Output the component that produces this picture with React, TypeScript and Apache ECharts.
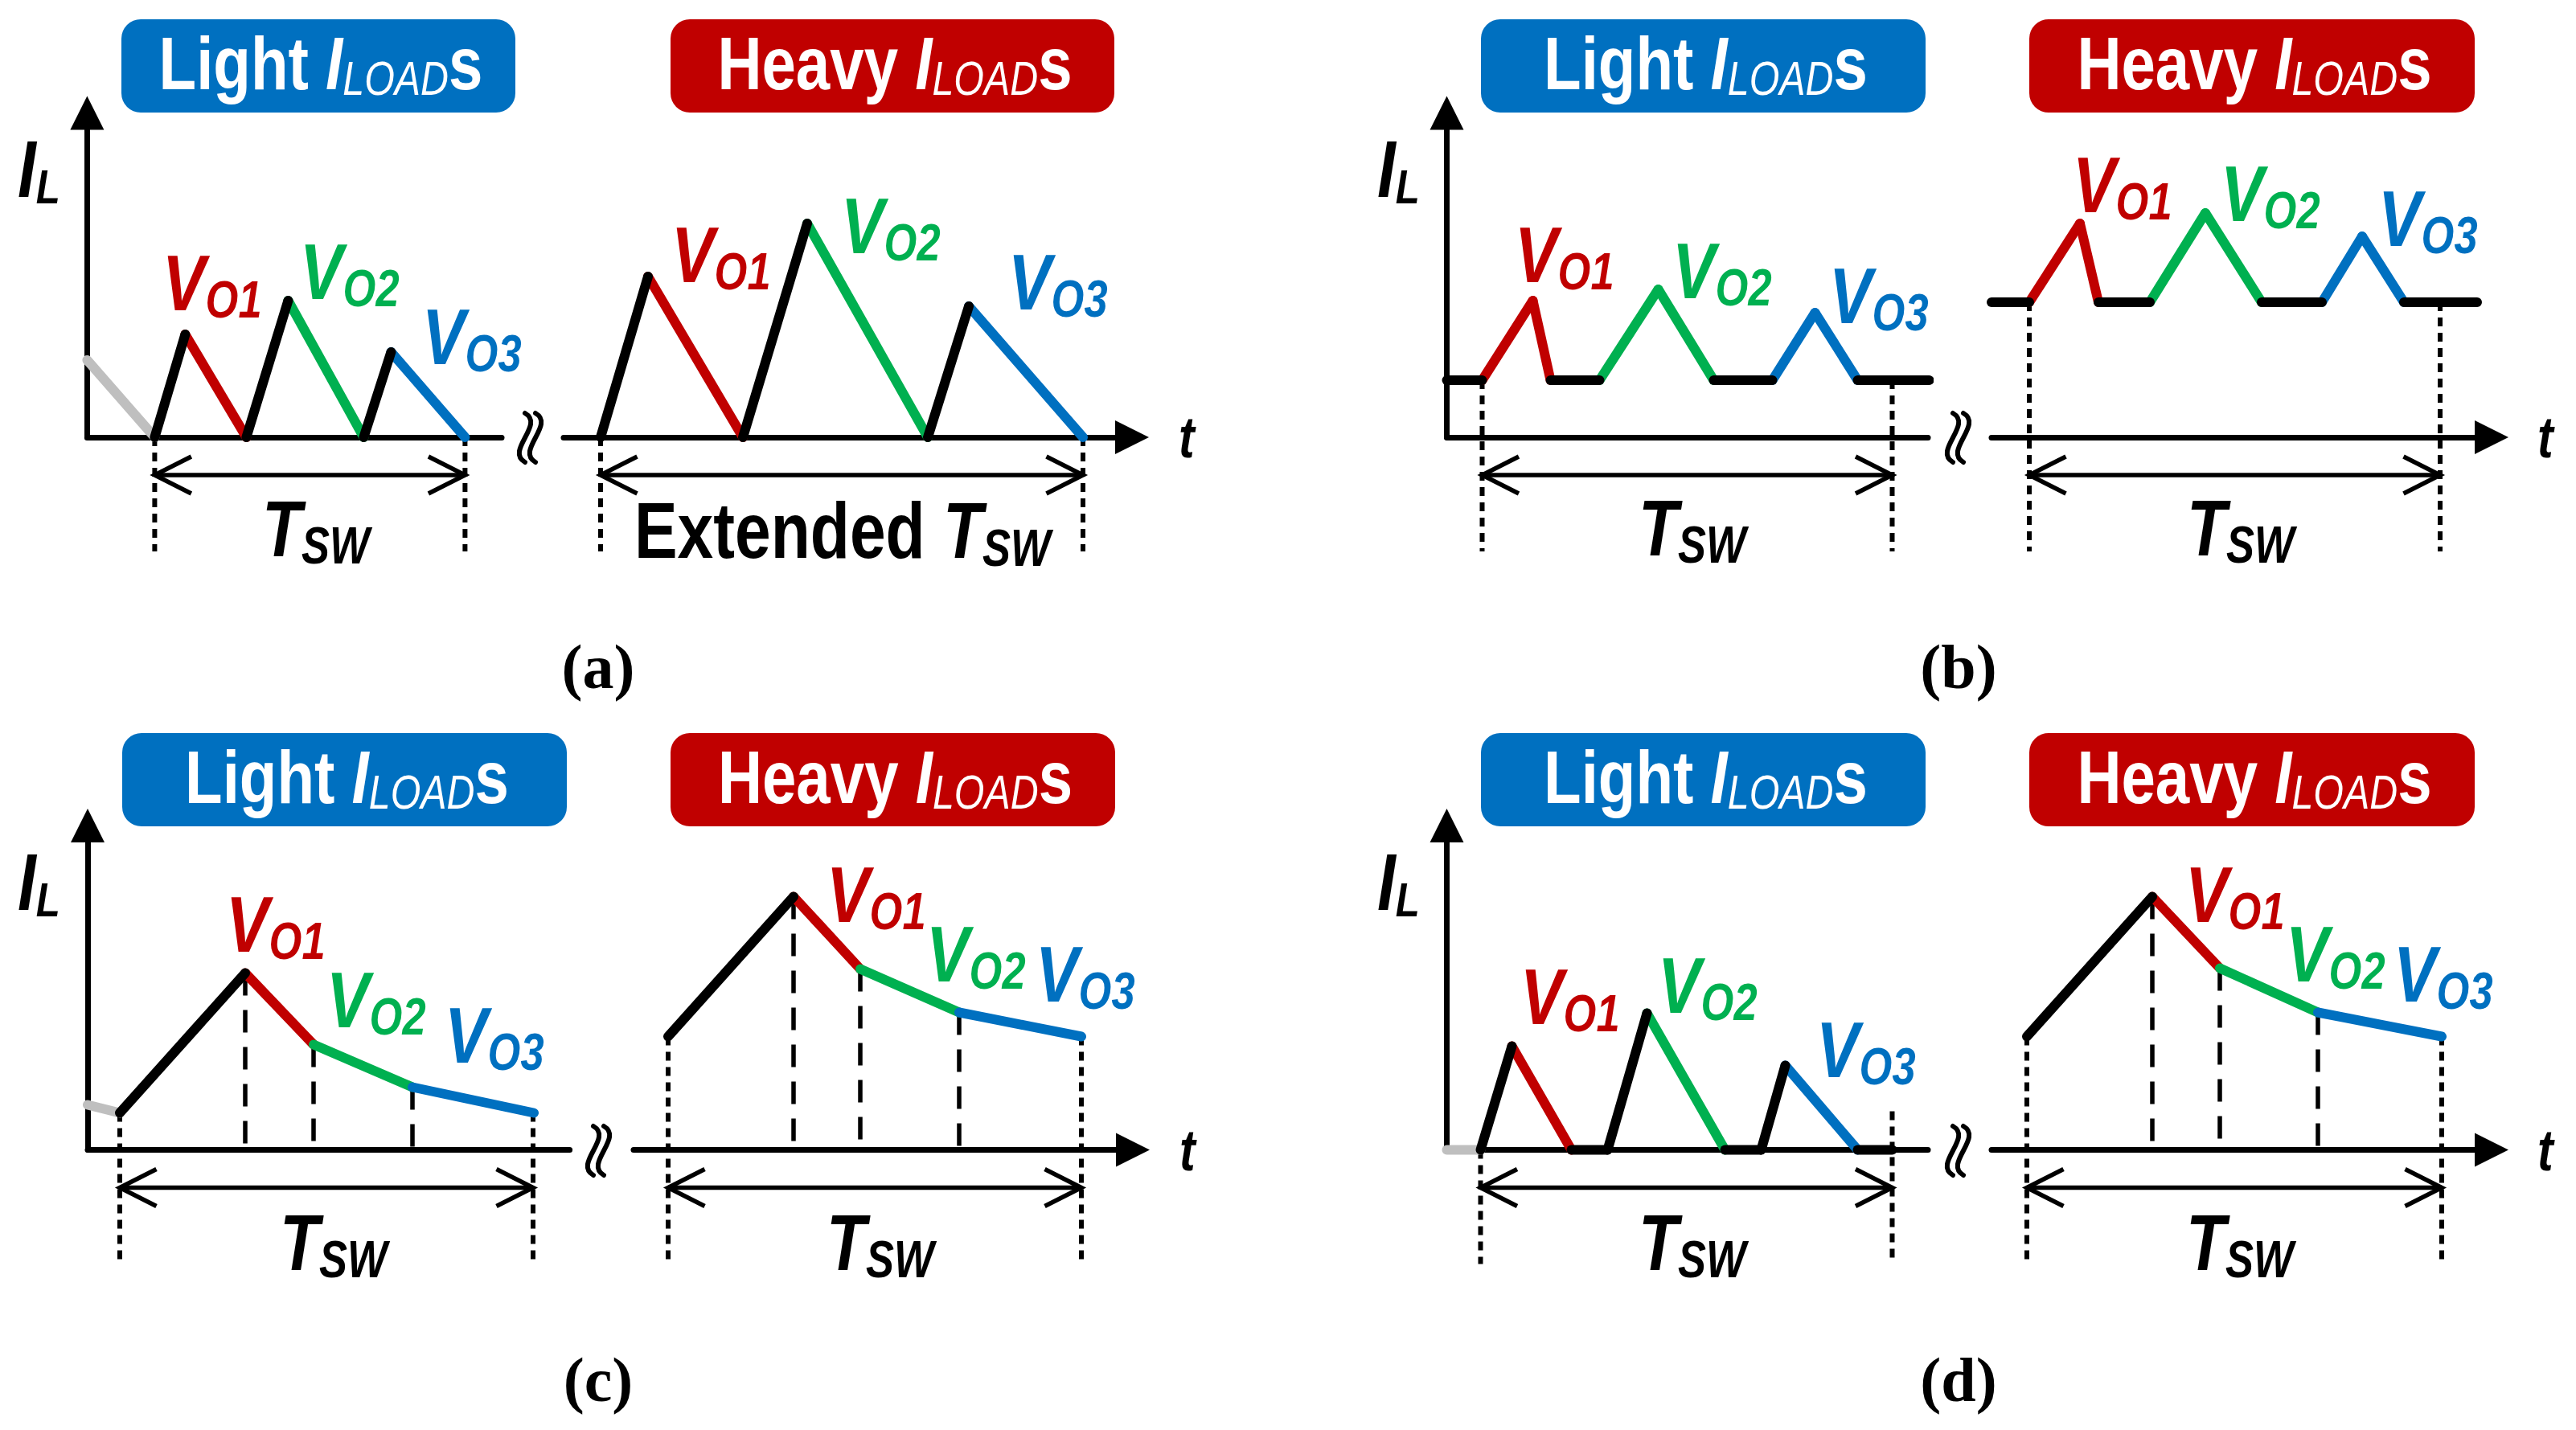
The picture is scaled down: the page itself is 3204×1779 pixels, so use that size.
import React, { useEffect, useRef } from 'react';
import * as echarts from 'echarts';

// ---------------- data (time and inductor current, arbitrary units) ----------------
// phases: prev = previous cycle tail, charge = inductor charging, hold = idle,
// VO1..VO3 = inductor discharging into the three outputs
const phaseNames = ['prev', 'charge', 'hold', 'VO1', 'VO2', 'VO3'];

// (a) light load
const aLightT = [0, 4.2, 6.1, 9.9, 12.5, 17.2, 18.9, 23.5];
const aLightI = [4.8, 0, 6.4, 0, 8.5, 0, 5.3, 0];
const aLightPhase = ['prev', 'charge', 'VO1', 'charge', 'VO2', 'charge', 'VO3'];
const aLightPeriod = [4.2, 23.5];
const aLightPeriodTop = [0, 0];

// (a) heavy load
const aHeavyT = [2.3, 5.25, 11.15, 15.15, 22.65, 25.2, 32.3];
const aHeavyI = [0, 10.0, 0, 13.3, 0, 8.15, 0];
const aHeavyPhase = ['charge', 'VO1', 'charge', 'VO2', 'charge', 'VO3'];
const aHeavyPeriod = [2.3, 32.3];
const aHeavyPeriodTop = [0, 0];

// (b) light load
const bLightT = [0, 2.2, 5.35, 6.45, 9.5, 13.15, 16.6, 20.25, 22.9, 25.55, 30.0];
const bLightI = [3.55, 3.55, 8.5, 3.55, 3.55, 9.2, 3.55, 3.55, 7.75, 3.55, 3.55];
const bLightPhase = ['hold', 'VO1', 'VO1', 'hold', 'VO2', 'VO2', 'hold', 'VO3', 'VO3', 'hold'];
const bLightPeriod = [2.2, 27.7];
const bLightPeriodTop = [3.55, 3.55];

// (b) heavy load
const bHeavyT = [0, 2.35, 5.5, 6.65, 9.85, 13.3, 16.8, 20.55, 23.05, 25.65, 30.2];
const bHeavyI = [8.4, 8.4, 13.3, 8.4, 8.4, 13.95, 8.4, 8.4, 12.5, 8.4, 8.4];
const bHeavyPhase = ['hold', 'VO1', 'VO1', 'hold', 'VO2', 'VO2', 'hold', 'VO3', 'VO3', 'hold'];
const bHeavyPeriod = [2.35, 27.9];
const bHeavyPeriodTop = [8.4, 8.4];

// (c) light load
const cLightT = [0, 2.0, 9.8, 14.05, 20.2, 27.75];
const cLightI = [2.8, 2.3, 11.0, 6.55, 3.9, 2.3];
const cLightPhase = ['prev', 'charge', 'VO1', 'VO2', 'VO3'];
const cLightPeriod = [2.0, 27.7];
const cLightPeriodTop = [2.3, 2.3];
const cLightSplitT = [9.8, 14.05, 20.2];
const cLightSplitI = [11.0, 6.55, 3.9];

// (c) heavy load
const cHeavyT = [2.15, 9.95, 14.1, 20.25, 27.85];
const cHeavyI = [7.05, 15.75, 11.25, 8.55, 7.05];
const cHeavyPhase = ['charge', 'VO1', 'VO2', 'VO3'];
const cHeavyPeriod = [2.15, 27.85];
const cHeavyPeriodTop = [7.05, 7.05];
const cHeavySplitT = [9.95, 14.1, 20.25];
const cHeavySplitI = [15.75, 11.25, 8.55];

// (d) light load
const dLightT = [0, 2.1, 4.05, 7.75, 10.0, 12.45, 17.3, 19.55, 21.05, 25.55, 27.7];
const dLightI = [0, 0, 6.45, 0, 0, 8.5, 0, 0, 5.25, 0, 0];
const dLightPhase = ['prev', 'charge', 'VO1', 'hold', 'charge', 'VO2', 'hold', 'charge', 'VO3', 'hold'];
const dLightPeriod = [2.1, 27.7];
const dLightPeriodTop = [0, 2.4];

// (d) heavy load
const dHeavyT = [2.2, 10.0, 14.2, 20.3, 28.0];
const dHeavyI = [7.05, 15.75, 11.3, 8.55, 7.05];
const dHeavyPhase = ['charge', 'VO1', 'VO2', 'VO3'];
const dHeavyPeriod = [2.2, 28.0];
const dHeavyPeriodTop = [7.05, 7.05];
const dHeavySplitT = [10.0, 14.2, 20.3];
const dHeavySplitI = [15.75, 11.3, 8.55];

const periodBottom = -7.1;
const periodArrowLevel = -2.35;

const captionLabels = ['(a)', '(b)', '(c)', '(d)'];

// ---------------- layout / style ----------------
const W = 3204;
const H = 1779;
const K = 20; // pixels per unit on both axes
const Y_LEN = 403.5;
const FONT = '"Liberation Sans", Arial, Helvetica, sans-serif';
const SERIF = '"Liberation Serif", "Times New Roman", serif';
const NARROW = 0.82;
const BLUE = '#0070C0';
const RED = '#C00000';
const GREEN = '#00B050';
const GRAY = '#BFBFBF';

const PHASE_COLOR: Record<string, string> = {
  prev: GRAY, charge: '#000000', hold: '#000000', VO1: RED, VO2: GREEN, VO3: BLUE,
};
const PHASE_Z: Record<string, number> = { prev: 3, charge: 6, hold: 6, VO1: 4, VO2: 4, VO3: 4 };

const PLOTS = [
  { ox: 108.4, oy: 544, xLen: 515.6, yAxis: true, arrowX: false, t: aLightT, i: aLightI, ph: aLightPhase, per: aLightPeriod, perTop: aLightPeriodTop },
  { ox: 701, oy: 544, xLen: 707, yAxis: false, arrowX: true, t: aHeavyT, i: aHeavyI, ph: aHeavyPhase, per: aHeavyPeriod, perTop: aHeavyPeriodTop },
  { ox: 1799.5, oy: 544, xLen: 598.5, yAxis: true, arrowX: false, t: bLightT, i: bLightI, ph: bLightPhase, per: bLightPeriod, perTop: bLightPeriodTop },
  { ox: 2477, oy: 544, xLen: 622, yAxis: false, arrowX: true, t: bHeavyT, i: bHeavyI, ph: bHeavyPhase, per: bHeavyPeriod, perTop: bHeavyPeriodTop },
  { ox: 109, oy: 1430.5, xLen: 599.6, yAxis: true, arrowX: false, t: cLightT, i: cLightI, ph: cLightPhase, per: cLightPeriod, perTop: cLightPeriodTop, splitT: cLightSplitT, splitI: cLightSplitI },
  { ox: 788, oy: 1430.5, xLen: 621, yAxis: false, arrowX: true, t: cHeavyT, i: cHeavyI, ph: cHeavyPhase, per: cHeavyPeriod, perTop: cHeavyPeriodTop, splitT: cHeavySplitT, splitI: cHeavySplitI },
  { ox: 1799.5, oy: 1430.5, xLen: 598.5, yAxis: true, arrowX: false, t: dLightT, i: dLightI, ph: dLightPhase, per: dLightPeriod, perTop: dLightPeriodTop },
  { ox: 2477, oy: 1430.5, xLen: 622, yAxis: false, arrowX: true, t: dHeavyT, i: dHeavyI, ph: dHeavyPhase, per: dHeavyPeriod, perTop: dHeavyPeriodTop, splitT: dHeavySplitT, splitI: dHeavySplitI },
];

const ARM_DX = 45.5 / K;
const ARM_DY = 23 / K;

function lineSeries(idx: number, data: number[][], lineStyle: any, z: number) {
  return {
    type: 'line',
    xAxisIndex: idx,
    yAxisIndex: idx,
    data,
    symbol: 'none',
    showSymbol: false,
    silent: true,
    clip: false,
    z,
    emphasis: { disabled: true },
    lineStyle,
  };
}

function buildSeries() {
  const series: any[] = [];
  PLOTS.forEach((p: any, idx) => {
    // period boundaries (dotted)
    p.per.forEach((b: number, j: number) => {
      series.push(lineSeries(idx, [[b, p.perTop[j]], [b, periodBottom]],
        { color: '#000', width: 6, type: [11, 8], cap: 'butt' }, 2));
    });
    // phase split markers (dashed)
    if (p.splitT) {
      p.splitT.forEach((s: number, j: number) => {
        series.push(lineSeries(idx, [[s, p.splitI[j]], [s, 0]],
          { color: '#000', width: 5.5, type: [28, 18], cap: 'butt' }, 2));
      });
    }
    // double-headed period arrow
    const [x1, x2] = p.per;
    const y = periodArrowLevel;
    const arrowStyle = { color: '#000', width: 5.5, cap: 'butt', join: 'miter' };
    series.push(lineSeries(idx, [[x1, y], [x2, y]], arrowStyle, 2));
    series.push(lineSeries(idx, [[x1 + ARM_DX, y + ARM_DY], [x1, y], [x1 + ARM_DX, y - ARM_DY]], arrowStyle, 2));
    series.push(lineSeries(idx, [[x2 - ARM_DX, y + ARM_DY], [x2, y], [x2 - ARM_DX, y - ARM_DY]], arrowStyle, 2));
    // waveform segments
    p.ph.forEach((ph: string, k: number) => {
      series.push(lineSeries(idx, [[p.t[k], p.i[k]], [p.t[k + 1], p.i[k + 1]]],
        { color: PHASE_COLOR[ph], width: 12, cap: 'round', join: 'round' }, PHASE_Z[ph]));
    });
  });
  return series;
}

// ---------------- text helpers ----------------
function tok(size: number, color: string, weight: string, style: string, lh: number, va?: string) {
  const o: any = { fontFamily: FONT, fontSize: size, fontWeight: weight, fontStyle: style, fill: color, color, lineHeight: lh };
  if (va) o.verticalAlign = va;
  return o;
}

function subLabel(x: number, y: number, main: string, sub: string, color: string, size = 98, subSize = 64, lh = 106) {
  return {
    type: 'text', x, y, scaleX: NARROW, scaleY: 1, z: 20, silent: true,
    style: {
      text: `{m|${main}}{s|${sub}}`,
      rich: {
        m: tok(size, color, 'bold', 'italic', lh),
        s: tok(subSize, color, 'bold', 'italic', subSize, 'bottom'),
      },
      fontFamily: FONT, fontSize: size, fill: color,
      align: 'left', verticalAlign: 'middle',
    },
  };
}

function vLabel(x: number, y: number, n: number) {
  const c = n === 1 ? RED : n === 2 ? GREEN : BLUE;
  return subLabel(x, y, 'V', 'O' + n, c);
}
function tswLabel(x: number, y: number) { return subLabel(x, y, 'T', 'SW', '#000'); }
function ilLabel(x: number, y: number) { return subLabel(x, y, 'I', 'L', '#000', 100, 60, 104); }
function tLabel(x: number, y: number) {
  return {
    type: 'text', x, y, scaleX: NARROW, z: 20, silent: true,
    style: { text: 't', fontFamily: FONT, fontSize: 72, fontWeight: 'bold', fontStyle: 'italic', fill: '#000', align: 'left', verticalAlign: 'middle' },
  };
}
function extendedLabel(x: number, y: number) {
  return {
    type: 'text', x, y, scaleX: NARROW, z: 20, silent: true,
    style: {
      text: '{e|Extended }{m|T}{s|SW}',
      rich: {
        e: tok(98, '#000', 'bold', 'normal', 108),
        m: tok(98, '#000', 'bold', 'italic', 108),
        s: tok(64, '#000', 'bold', 'italic', 64, 'bottom'),
      },
      fontFamily: FONT, fontSize: 98, fill: '#000', align: 'left', verticalAlign: 'middle',
    },
  };
}
function loadBox(x: number, y: number, w: number, h: number, heavy: boolean) {
  const fill = heavy ? RED : BLUE;
  return [
    { type: 'rect', z: 15, silent: true, shape: { x, y, width: w, height: h, r: 24 }, style: { fill } },
    {
      type: 'text', x: x + w / 2 + 3, y: y + h / 2 - 3, scaleX: NARROW, z: 20, silent: true,
      style: {
        text: `{a|${heavy ? 'Heavy' : 'Light'} }{i|I}{s|LOAD}{a|s}`,
        rich: {
          a: tok(93, '#fff', 'bold', 'normal', 96),
          i: tok(93, '#fff', 'bold', 'italic', 96),
          s: tok(59, '#fff', 'normal', 'italic', 59, 'bottom'),
        },
        fontFamily: FONT, fontSize: 93, fill: '#fff', align: 'center', verticalAlign: 'middle',
      },
    },
  ];
}
// axis-break mark: two S-shaped strokes
function breakMark(x: number, y: number) {
  const stroke = { stroke: '#000', lineWidth: 6, lineCap: 'round', fill: 'none' };
  const curve = (dx: number) => ({
    type: 'bezierCurve', silent: true,
    shape: { x1: dx - 8, y1: -30, cpx1: dx + 17, cpy1: -16, cpx2: dx - 33, cpy2: 17, x2: dx - 8, y2: 31 },
    style: stroke,
  });
  return { type: 'group', x, y, z: 20, silent: true, children: [curve(0), curve(13)] };
}
function caption(x: number, y: number, text: string) {
  return {
    type: 'text', x, y, z: 20, silent: true,
    style: { text, fontFamily: SERIF, fontSize: 78, fontWeight: 'bold', fill: '#000', align: 'center', verticalAlign: 'middle' },
  };
}

function buildGraphics() {
  const g: any[] = [];
  // boxes
  g.push(...loadBox(151, 24, 490, 116, false));
  g.push(...loadBox(834, 24, 552, 116, true));
  g.push(...loadBox(1842, 24, 553, 116, false));
  g.push(...loadBox(2524, 24, 554, 116, true));
  g.push(...loadBox(152, 912, 553, 116, false));
  g.push(...loadBox(834, 912, 553, 116, true));
  g.push(...loadBox(1842, 912, 553, 116, false));
  g.push(...loadBox(2524, 912, 554, 116, true));

  // (a)
  g.push(ilLabel(22, 210));
  g.push(vLabel(202, 352, 1), vLabel(373, 338, 2), vLabel(525, 419, 3));
  g.push(tswLabel(326, 658));
  g.push(vLabel(835, 317, 1), vLabel(1046, 281, 2), vLabel(1254, 351, 3));
  g.push(extendedLabel(789, 660));
  g.push(tLabel(1466, 544));
  g.push(breakMark(661, 544));

  // (b)
  g.push(ilLabel(1713, 210));
  g.push(vLabel(1884, 317, 1), vLabel(2080, 337, 2), vLabel(2275, 368, 3));
  g.push(tswLabel(2038, 657));
  g.push(vLabel(2578, 230, 1), vLabel(2762, 241, 2), vLabel(2958, 272, 3));
  g.push(tswLabel(2720, 657));
  g.push(tLabel(3156, 544));
  g.push(breakMark(2437, 544));

  // (c)
  g.push(ilLabel(22, 1097));
  g.push(vLabel(281, 1150, 1), vLabel(406, 1244, 2), vLabel(553, 1288, 3));
  g.push(tswLabel(348, 1546));
  g.push(vLabel(1028, 1113, 1), vLabel(1152, 1187, 2), vLabel(1288, 1212, 3));
  g.push(tswLabel(1028, 1546));
  g.push(tLabel(1467, 1431));
  g.push(breakMark(746, 1431));

  // (d)
  g.push(ilLabel(1713, 1097));
  g.push(vLabel(1891, 1240, 1), vLabel(2062, 1226, 2), vLabel(2259, 1306, 3));
  g.push(tswLabel(2038, 1546));
  g.push(vLabel(2718, 1113, 1), vLabel(2843, 1187, 2), vLabel(2977, 1212, 3));
  g.push(tswLabel(2719, 1546));
  g.push(tLabel(3156, 1431));
  g.push(breakMark(2437, 1431));

  // captions
  g.push(caption(744, 829, captionLabels[0]));
  g.push(caption(2436, 829, captionLabels[1]));
  g.push(caption(744, 1716, captionLabels[2]));
  g.push(caption(2436, 1716, captionLabels[3]));
  return g;
}

function buildOption() {
  const axisLineStyle = { color: '#000', width: 7 };
  return {
    animation: false,
    backgroundColor: '#ffffff',
    grid: PLOTS.map((p) => ({
      left: p.ox, top: p.oy - Y_LEN, width: p.xLen, height: Y_LEN,
      containLabel: false, outerBoundsMode: 'none', show: false,
    })),
    xAxis: PLOTS.map((p, i) => ({
      type: 'value', gridIndex: i, min: 0, max: p.xLen / K,
      axisLine: {
        show: true, onZero: false,
        symbol: p.arrowX ? ['none', 'triangle'] : ['none', 'none'],
        symbolSize: [42, 42],
        lineStyle: axisLineStyle,
      },
      axisTick: { show: false }, axisLabel: { show: false }, splitLine: { show: false },
    })),
    yAxis: PLOTS.map((p, i) => ({
      type: 'value', gridIndex: i, min: 0, max: Y_LEN / K, show: p.yAxis,
      axisLine: {
        show: true, onZero: false,
        symbol: ['none', 'triangle'], symbolSize: [42, 42],
        lineStyle: axisLineStyle,
      },
      axisTick: { show: false }, axisLabel: { show: false }, splitLine: { show: false },
    })),
    series: buildSeries(),
    graphic: buildGraphics(),
  };
}

export default function App() {
  const ref = useRef<HTMLDivElement>(null);
  useEffect(() => {
    if (!ref.current) return;
    const chart = echarts.init(ref.current, undefined, { renderer: 'svg' });
    chart.setOption(buildOption() as any);
    return () => chart.dispose();
  }, []);
  return (
    <div
      ref={ref}
      style={{ position: 'absolute', left: 0, top: 0, width: W, height: H, background: '#fff' }}
    />
  );
}
